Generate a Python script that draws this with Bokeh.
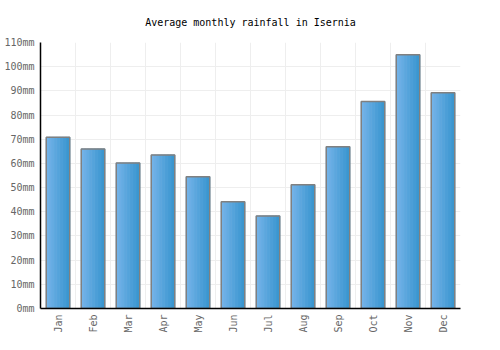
import math
from bokeh.plotting import figure
from bokeh.embed import file_html
from bokeh.resources import INLINE
from bokeh.models import ColumnDataSource, FixedTicker, Range1d
from bokeh.transform import dodge

months = ["Jan", "Feb", "Mar", "Apr", "May", "Jun", "Jul", "Aug", "Sep", "Oct", "Nov", "Dec"]
rainfall = [70.8, 66.0, 60.2, 63.5, 54.5, 44.1, 38.3, 51.2, 66.9, 85.6, 104.9, 89.2]
y_ticks = [0, 10, 20, 30, 40, 50, 60, 70, 80, 90, 100, 110]

xpos = [i + 0.5 for i in range(len(months))]
src = ColumnDataSource(dict(x=xpos, month=months, rain=rainfall))

FONT = "DejaVu Sans Mono"

p = figure(width=500, height=350, output_backend="svg", toolbar_location=None,
           x_range=Range1d(0, 12), y_range=Range1d(0, 110),
           title="Average monthly rainfall in Isernia",
           min_border_left=40, min_border_right=40, min_border_bottom=42, min_border_top=42)

p.title.align = "center"
p.title.text_font = FONT
p.title.text_font_size = "10px"
p.title.text_font_style = "normal"
p.title.text_color = "#000000"
p.title.offset = 0
p.title.standoff = 29

# gradient bars simulated with narrow strips
bar_w = 0.67
n = 16
c0 = (0x76, 0xb4, 0xea)
c1 = (0x3a, 0x96, 0xcf)
sw = bar_w / n
for k in range(n):
    t = k / (n - 1)
    col = "#%02x%02x%02x" % tuple(int(round(a + (b - a) * t)) for a, b in zip(c0, c1))
    off = -bar_w / 2 + sw * (k + 0.5)
    p.vbar(x=dodge("x", off), top="rain", bottom=0, width=sw * 1.3, source=src,
           fill_color=col, line_color=col, line_width=0.6)
p.vbar(x="x", top="rain", bottom=0, width=bar_w, source=src,
       fill_color=None, line_color="#808080", line_width=1.5)

p.xaxis.ticker = FixedTicker(ticks=xpos)
p.xaxis.major_label_overrides = {x: m for x, m in zip(xpos, months)}
p.xaxis.major_label_orientation = math.pi / 2
p.yaxis.ticker = FixedTicker(ticks=y_ticks)
p.yaxis.major_label_overrides = {v: f"{v}mm" for v in y_ticks}

for ax in (p.xaxis[0], p.yaxis[0]):
    ax.major_tick_line_color = None
    ax.minor_tick_line_color = None
    ax.major_tick_out = 0
    ax.major_tick_in = 0
    ax.minor_tick_out = 0
    ax.minor_tick_in = 0
    ax.axis_line_color = "#000000"
    ax.axis_line_width = 1.5
    ax.major_label_text_font = FONT
    ax.major_label_text_font_size = "10px"
    ax.major_label_text_color = "#666666"
    ax.major_label_standoff = 6

p.xgrid.ticker = FixedTicker(ticks=list(range(13)))
p.xgrid.grid_line_color = "#eeeeee"
p.ygrid.grid_line_color = "#eeeeee"
p.outline_line_color = None
p.background_fill_color = "white"

open("out.html", "w").write(file_html(p, INLINE))
